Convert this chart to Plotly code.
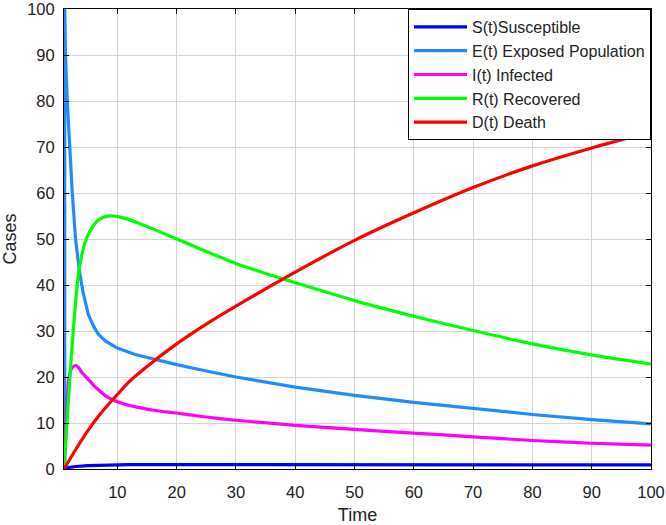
import plotly.graph_objects as go

# ---- data ----
t_S = [1, 1.06, 1.7, 3, 5, 8, 12, 20, 40, 60, 80, 100]
S = [100, 0.1, 0.3, 0.55, 0.75, 0.88, 0.95, 0.95, 0.95, 0.9, 0.9, 0.9]

t_E = [1.12, 1.12, 1.25, 1.55, 1.95, 2.4, 2.95, 3.6, 4.2, 5.1, 6, 6.8, 8, 10, 13, 17,
       20, 25, 30, 40, 50, 60, 70, 80, 90, 100]
E = [0.5, 100, 90, 80, 70, 60, 50, 43, 38.5, 33.6, 31, 29.3, 27.8, 26.3, 24.9, 23.6,
     22.7, 21.3, 20, 17.8, 16, 14.5, 13.1, 11.85, 10.75, 9.8]

t_I = [1, 1.4, 1.75, 2.1, 2.5, 3, 3.5, 4, 5.1, 6, 7, 8, 9.3, 11, 13.5, 17, 21, 25, 30,
       40, 50, 60, 70, 80, 90, 100]
I = [0, 10, 19, 21.3, 22.2, 22.5, 22, 21, 19.5, 18.2, 17, 15.9, 15, 14.2, 13.4, 12.6, 12,
     11.3, 10.6, 9.5, 8.6, 7.8, 7.0, 6.2, 5.6, 5.2]

t_R = [1, 1.5, 2, 2.5, 3, 3.5, 4, 4.5, 5.1, 6, 7, 8, 9.3, 11, 13.5, 16, 20, 25, 30, 35,
       40, 50, 60, 70, 80, 90, 100]
R = [0, 10, 20, 29, 37, 43, 46.5, 49, 51, 53, 54.3, 54.9, 55, 54.6, 53.5, 52.2, 50.0,
     47.3, 44.7, 42.5, 40.5, 36.6, 33.2, 30.1, 27.2, 24.8, 22.8]

t_D = [1, 3, 5, 7, 9.3, 12, 15, 20, 25, 30, 40, 50, 60, 70, 80, 90, 100]
D = [0, 4.3, 8.3, 11.8, 15.2, 19, 22.3, 27.2, 31.5, 35.4, 42.8, 49.7, 55.7, 61.2,
     65.9, 69.8, 73.3]

names = ["S(t)Susceptible", "E(t) Exposed Population", "I(t) Infected",
         "R(t) Recovered", "D(t) Death"]
colors = ["#0000FF", "#1E8CFF", "#FF00FF", "#00FF00", "#FF0000"]

x_ticks = [10, 20, 30, 40, 50, 60, 70, 80, 90, 100]
y_ticks = [0, 10, 20, 30, 40, 50, 60, 70, 80, 90, 100]

series = [(t_S, S, "linear"), (t_E, E, "linear"), (t_I, I, "spline"),
          (t_R, R, "spline"), (t_D, D, "spline")]

fig = go.Figure()
for (tx, ty, shape), nm, col in zip(series, names, colors):
    fig.add_trace(go.Scatter(
        x=tx, y=ty, mode="lines", name=nm,
        line=dict(color=col, width=3.2, shape=shape, smoothing=0.7 if shape == "spline" else None),
    ))

font_family = "Liberation Sans, Arial, sans-serif"
axis_common = dict(
    showline=True, linecolor="black", linewidth=1, mirror="allticks",
    ticks="inside", ticklen=5, tickcolor="black",
    showgrid=True, gridcolor="#d4d4d4", gridwidth=1,
    zeroline=False, ticklabeloverflow="allow", automargin=False,
    tickfont=dict(family=font_family, size=16.5, color="#222222"),
)

fig.update_layout(
    width=666, height=525,
    margin=dict(l=64, r=15, t=9, b=56, autoexpand=False),
    paper_bgcolor="white", plot_bgcolor="white",
    font=dict(family=font_family, color="#222222"),
    xaxis=dict(range=[1, 100], tickvals=x_ticks, ticklabelstandoff=8,
               title=dict(text="Time", font=dict(family=font_family, size=18), standoff=8),
               **axis_common),
    yaxis=dict(range=[0, 100], tickvals=y_ticks, ticklabelstandoff=5,
               title=dict(text="Cases", font=dict(family=font_family, size=18), standoff=13),
               **axis_common),
    legend=dict(
        x=1, y=1, xanchor="right", yanchor="top",
        bgcolor="white", bordercolor="black", borderwidth=1,
        font=dict(family=font_family, size=16, color="#222222"),
        itemwidth=53, tracegroupgap=0,
    ),
    showlegend=True,
)

fig.write_html("out.html", config={"displayModeBar": False},
               post_script="document.body.style.margin='0px';")
